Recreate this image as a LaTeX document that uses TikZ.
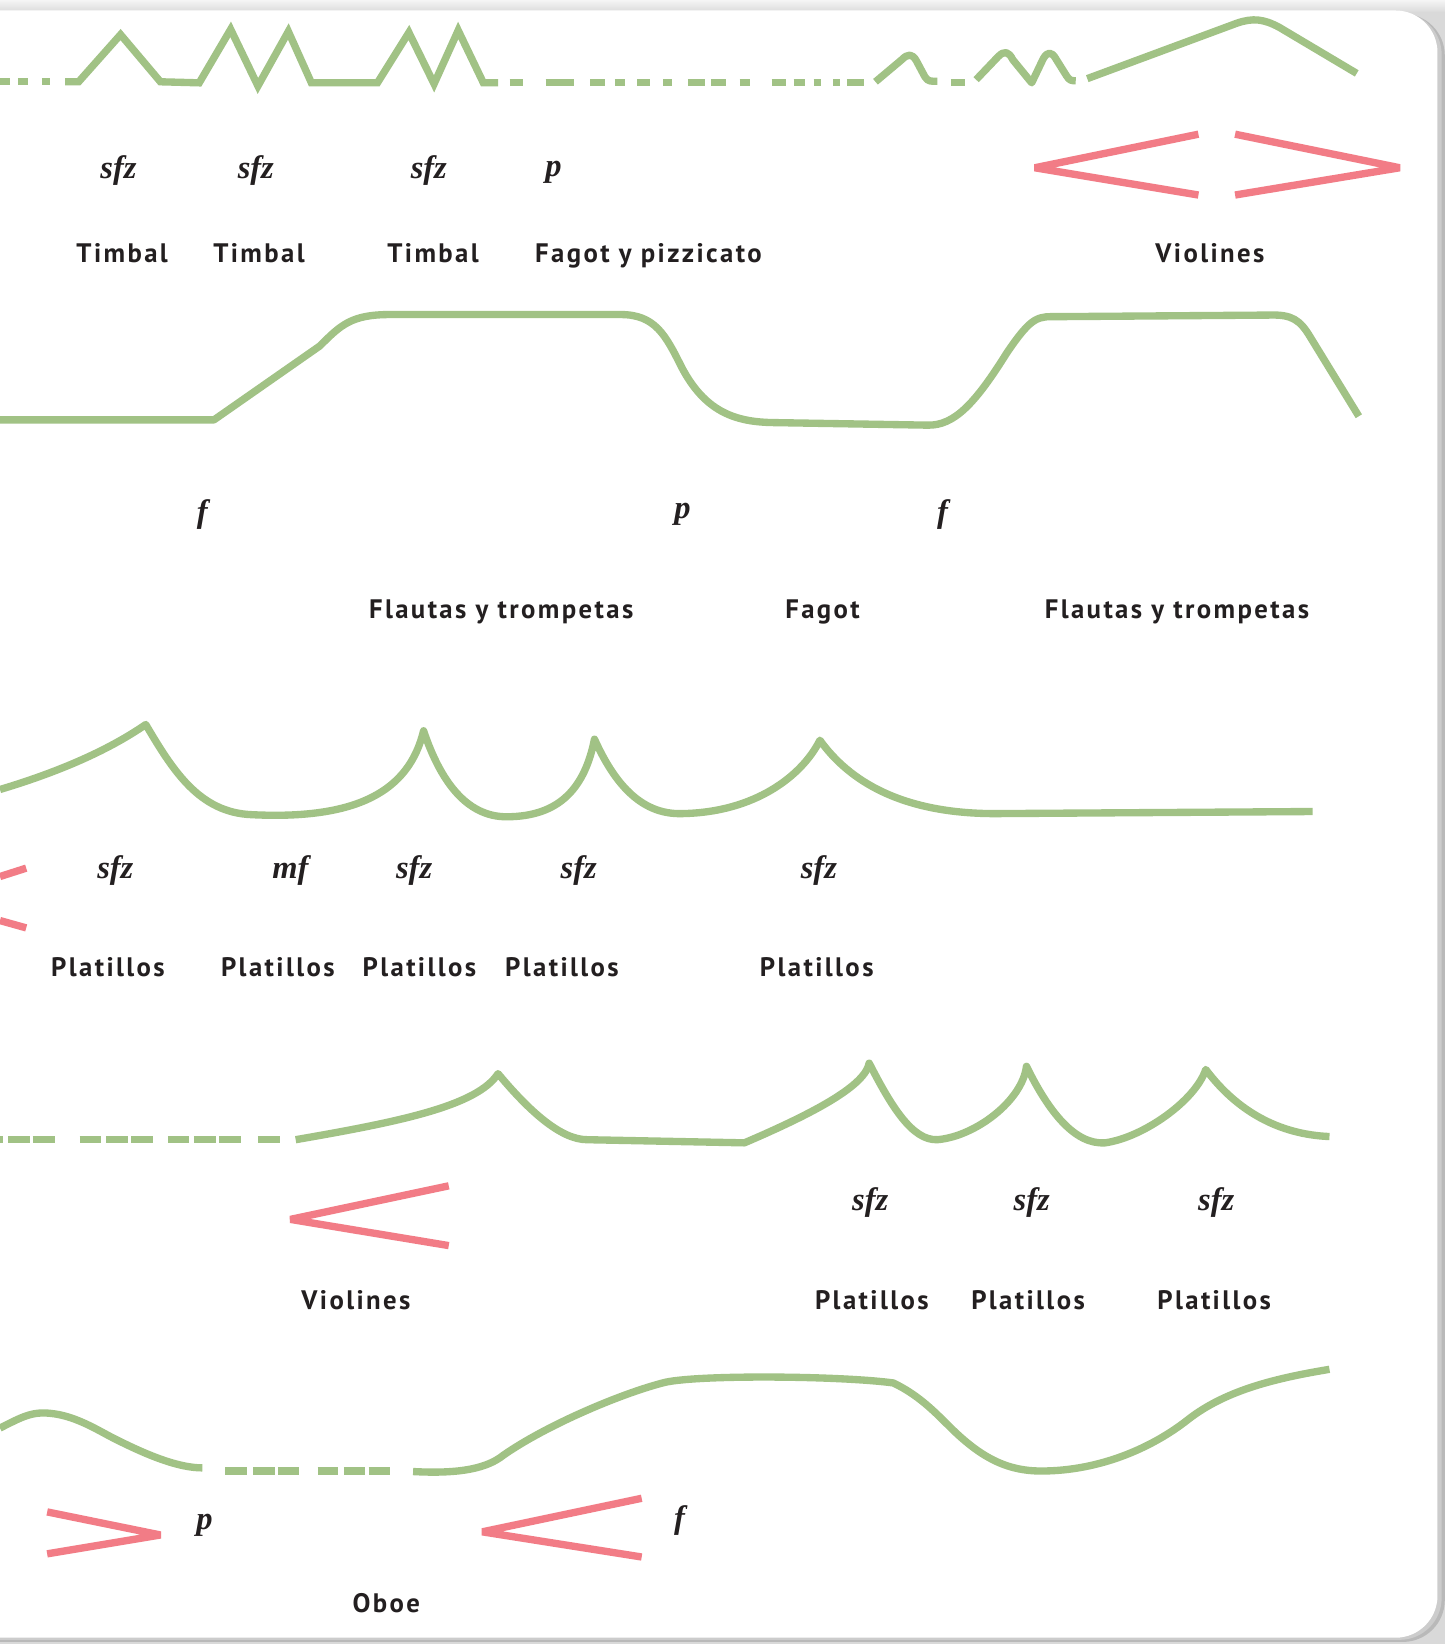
\documentclass[tikz,border=0pt]{standalone}
\usepackage{fontspec}
\newfontfamily\labfont[LetterSpace=9]{PT Sans}
\newfontfamily\dynfont{Liberation Serif}
\definecolor{lgreen}{HTML}{A1C285}
\definecolor{lpink}{HTML}{F27C86}
\definecolor{ink}{HTML}{231F20}
\tikzset{
  curve/.style={draw=lgreen, line width=7pt, line join=round},
  zig/.style={draw=lgreen, line width=7pt, line join=miter},
  hairpin/.style={draw=lpink, line width=7pt, line join=bevel},
  dyn/.style={text=ink, anchor=base, inner sep=0pt, font=\dynfont\fontsize{31}{31}\selectfont\bfseries\itshape},
  lab/.style={text=ink, anchor=base, inner sep=0pt, font=\labfont\fontsize{25.5}{25.5}\selectfont\bfseries},
}
\begin{document}
\begin{tikzpicture}[x=1pt,y=-1pt]
\useasboundingbox (0,0) rectangle (1378,1568);
% background
\fill[gray!30] (0,0) rectangle (1378,1568);
\shade[top color=gray!8, bottom color=gray!28] (0,0) rectangle (1378,11);
\fill[gray!55, rounded corners=40pt] (-60,13) rectangle (1378,1566);
\fill[gray!40, rounded corners=40pt] (-60,12) rectangle (1375,1564);
\fill[white, rounded corners=40pt] (-60,10) rectangle (1371,1562);

% ---------- Row 1 ----------
\foreach \a/\b in {0/10,17/27,40/48}
  \draw[zig] (\a,77.5) -- (\b,77.5);
\draw[zig] (62,78) -- (75,78) -- (115,33) -- (153,78) -- (190,79) -- (220,28) -- (246,82) -- (275,30) -- (297,79) -- (360,79) -- (390,31) -- (414,80) -- (437,29) -- (461,79) -- (475,79);
\foreach \a/\b in {486/499,520.5/547,563/577,586.5/596,608/620,632.5/641,656/672,678/692,705.5/715.5,736/750,757/767.8,776/783,794.6/801,807.8/823.8,907/920}
  \draw[zig] (\a,78.5) -- (\b,78.5);
\draw[curve] (835,78) -- (860,57) .. controls (866,51) and (870,51) .. (874,58) -- (882,73) .. controls (885,78) and (888,77.5) .. (894,77.5);
\draw[curve] (931,76) -- (952,54) .. controls (958,48) and (962,49) .. (966,57) -- (984,79) -- (995,56) .. controls (999,49) and (1003,49) .. (1007,56) -- (1017,72) .. controls (1020,77) and (1022,77) .. (1026,77);
\draw[curve] (1037,75) -- (1180,22) .. controls (1195,17) and (1205,18) .. (1220,26) -- (1294,70);
\draw[hairpin] (1143,128) -- (987,160) -- (1143,186);
\draw[hairpin] (1178,128) -- (1335,160) -- (1178,186);

\node[dyn] (d1) at (113,170) {sfz};
\node[dyn] (d2) at (244,170) {sfz};
\node[dyn] (d3) at (409,170) {sfz};
\node[dyn] (d4) at (528,168) {p};
\node[lab] (l1) at (116.5,250) {Timbal};
\node[lab] (l2) at (247,250) {Timbal};
\node[lab] (l3) at (413,250) {Timbal};
\node[lab] (l4) at (618.5,250) {Fagot y pizzicato};
\node[lab] (l5) at (1154,250) {Violines};

% ---------- Row 2 ----------
\draw[curve] (0,400.5) -- (204,400.5) -- (305,330) .. controls (325,310) and (335,300) .. (372,300) -- (592,300) .. controls (625,300) and (635,320) .. (650,350) .. controls (672,392) and (700,402) .. (735,403) -- (885,405.5) .. controls (910,406) and (930,385) .. (960,337) .. controls (985,300) and (990,302) .. (1010,302) -- (1212,300.5) .. controls (1232,300) and (1240,305) .. (1250,322) -- (1296,397);
\node[dyn] (d5) at (193,498) {f};
\node[dyn] (d6) at (651,495) {p};
\node[dyn] (d7) at (899,498) {f};
\node[lab] (l6) at (478,590) {Flautas y trompetas};
\node[lab] (l7) at (784.5,590) {Fagot};
\node[lab] (l8) at (1122.5,590) {Flautas y trompetas};

% ---------- Row 3 ----------
\draw[curve] (0,753) .. controls (50,738) and (100,718) .. (139,691)
  .. controls (165,735) and (190,775) .. (240,777)
  .. controls (340,782) and (390,755) .. (404,697)
  .. controls (420,745) and (445,779) .. (483,779)
  .. controls (535,779) and (558,750) .. (567,705)
  .. controls (585,745) and (610,777) .. (650,776)
  .. controls (720,775) and (765,740) .. (782,706)
  .. controls (810,745) and (860,776) .. (949,776) -- (1252,774);
\draw[hairpin] (0,836) -- (25,828);
\draw[hairpin] (0,878) -- (25,885);
\node[dyn] (d8) at (110,838) {sfz};
\node[dyn] (d9) at (277,838) {mf};
\node[dyn] (d10) at (395,838) {sfz};
\node[dyn] (d11) at (552,838) {sfz};
\node[dyn] (d12) at (781,838) {sfz};
\node[lab] (l9) at (103,931) {Platillos};
\node[lab] (l10) at (265,931) {Platillos};
\node[lab] (l11) at (400,931) {Platillos};
\node[lab] (l12) at (536,931) {Platillos};
\node[lab] (l13) at (779,931) {Platillos};

% ---------- Row 4 ----------
\foreach \a/\b in {0/2.5,8/28.5,31/52,76/96.5,101/122,125/146,160/180,185/206,209/230,246/267}
  \draw[zig] (\a,1087) -- (\b,1087);
\draw[curve] (282,1087) .. controls (380,1070) and (455,1055) .. (475,1024)
  .. controls (505,1060) and (535,1087) .. (560,1087) -- (710,1090)
  .. controls (780,1060) and (825,1035) .. (829,1014)
  .. controls (850,1055) and (870,1088) .. (894,1087)
  .. controls (930,1084) and (975,1050) .. (979,1017)
  .. controls (1000,1060) and (1025,1092) .. (1054,1090)
  .. controls (1090,1085) and (1140,1050) .. (1150,1020)
  .. controls (1180,1060) and (1220,1082) .. (1268,1084);
\draw[hairpin] (428,1131) -- (277,1163) -- (428,1188);
\node[dyn] (d13) at (830,1155) {sfz};
\node[dyn] (d14) at (984,1155) {sfz};
\node[dyn] (d15) at (1160,1155) {sfz};
\node[lab] (l14) at (339.5,1249) {Violines};
\node[lab] (l15) at (831.5,1249) {Platillos};
\node[lab] (l16) at (980.5,1249) {Platillos};
\node[lab] (l17) at (1158,1249) {Platillos};

% ---------- Row 5 ----------
\draw[curve] (0,1362) .. controls (20,1352) and (30,1346) .. (48,1348) .. controls (70,1350) and (90,1362) .. (105,1370) .. controls (140,1388) and (170,1400) .. (193,1400);
\foreach \a/\b in {215/235.5,241.6/262,265/285.6,303/322.5,328/348,351.5/371.7}
  \draw[zig] (\a,1403) -- (\b,1403);
\draw[curve] (394,1403.5) .. controls (440,1406) and (465,1400) .. (480,1388) .. controls (520,1360) and (590,1330) .. (632,1319) .. controls (660,1311) and (800,1312) .. (852,1319) .. controls (875,1330) and (890,1345) .. (905,1360) .. controls (935,1390) and (960,1403) .. (993,1403) .. controls (1050,1403) and (1100,1380) .. (1133,1354) .. controls (1170,1325) and (1220,1314) .. (1268,1306);
\draw[hairpin] (45,1442) -- (153,1464) -- (45,1482);
\draw[hairpin] (612,1429) -- (460,1461) -- (612,1485);
\node[dyn] (d16) at (195,1459) {p};
\node[dyn] (d17) at (648,1458) {f};
\node[lab] (l18) at (368.5,1538) {Oboe};
\end{tikzpicture}
\end{document}
